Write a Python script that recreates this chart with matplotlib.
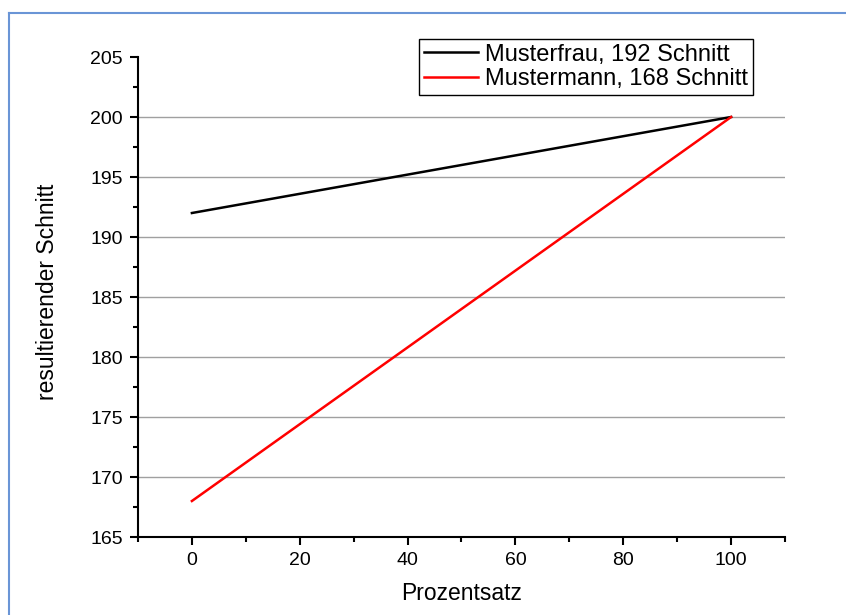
#!/usr/bin/env python3
"""
Resultierender Schnitt in Abhängigkeit vom Prozentsatz
"""

import matplotlib
matplotlib.use("Agg")
import matplotlib.pyplot as plt
from matplotlib.lines import Line2D
from matplotlib.ticker import MultipleLocator

# Daten
prozentsatz = [0, 100]
musterfrau = [192, 200]
mustermann = [168, 200]
labels = ["Musterfrau, 192 Schnitt", "Mustermann, 168 Schnitt"]
x_ticks = [0, 20, 40, 60, 80, 100]
y_ticks = [165, 170, 175, 180, 185, 190, 195, 200, 205]
grid_y = [170, 175, 180, 185, 190, 195, 200]

plt.rcParams['font.family'] = ['Liberation Sans', 'DejaVu Sans']

fig = plt.figure(figsize=(8.46, 6.15), dpi=100)
ax = fig.add_axes([0.1631, 0.1268, 0.7648, 0.7805])

# Rahmen (blau, nur oben und links sichtbar)
border_color = '#6a95d6'
fig.add_artist(Line2D([8.5 / 846, 8.5 / 846], [0, 1 - 12.5 / 615],
                      color=border_color, linewidth=1.5, transform=fig.transFigure))
fig.add_artist(Line2D([8.5 / 846, 1], [1 - 12.5 / 615, 1 - 12.5 / 615],
                      color=border_color, linewidth=1.5, transform=fig.transFigure))

# Gitterlinien
ax.hlines(grid_y, 0, 1, transform=ax.get_yaxis_transform(),
          color='#a0a0a0', linewidth=1.0, zorder=1)

ax.plot(prozentsatz, musterfrau, color='black', linewidth=1.8, label=labels[0], zorder=3)
ax.plot(prozentsatz, mustermann, color='#ff0000', linewidth=1.8, label=labels[1], zorder=3)

ax.set_xlim(-10, 110)
ax.set_ylim(165, 205)
ax.set_xticks(x_ticks)
ax.set_yticks(y_ticks)
ax.xaxis.set_minor_locator(MultipleLocator(10))
ax.yaxis.set_minor_locator(MultipleLocator(2.5))

for side in ['top', 'right']:
    ax.spines[side].set_visible(False)
for side in ['left', 'bottom']:
    ax.spines[side].set_linewidth(1.5)

ax.tick_params(which='major', direction='out', length=6, width=1.5,
               labelsize=14, pad=5)
ax.tick_params(which='minor', direction='out', length=3.5, width=1.5)

ax.set_xlabel('Prozentsatz', fontsize=16.5)
ax.set_ylabel('resultierender Schnitt', fontsize=16.5)
ax.xaxis.set_label_coords(0.5, -0.093)
ax.yaxis.set_label_coords(-0.122, 0.51)

leg = ax.legend(loc='upper right', bbox_to_anchor=(753 / 846, 1 - 39 / 615),
                bbox_transform=fig.transFigure, fontsize=17, frameon=True,
                fancybox=False, framealpha=1, edgecolor='black',
                handlelength=2.3, handletextpad=0.3, borderpad=0.2,
                labelspacing=0.1, borderaxespad=0)
leg.get_frame().set_linewidth(1.0)

plt.savefig('out.png', dpi=100)
plt.close()
